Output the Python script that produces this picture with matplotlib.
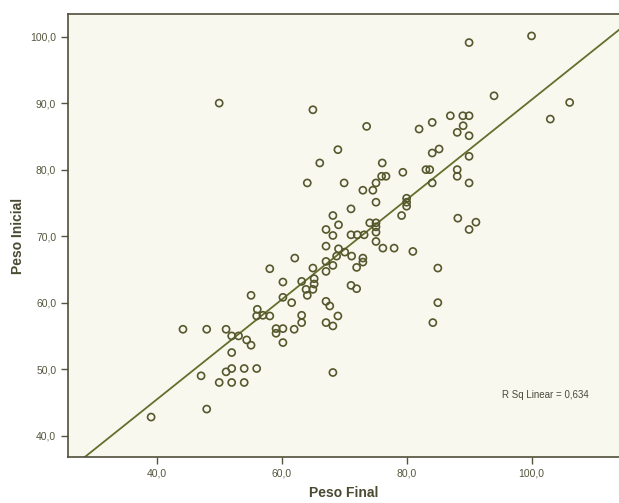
import numpy as np
import matplotlib
matplotlib.use("Agg")
import matplotlib.pyplot as plt
from matplotlib.ticker import FuncFormatter

# Peso Final (x) e Peso Inicial (y)
peso_final = [
    50.0, 65.0, 73.6, 69.0, 66.1, 76.1, 64.1, 70.0, 76.0, 76.7,
    79.4, 75.1, 73.0, 74.6, 90.0, 100.0, 94.0, 106.1, 103.0, 87.0,
    89.0, 90.0, 89.05, 88.1, 90.0, 84.1, 82.0, 84.1, 85.2, 90.0,
    83.1, 83.7, 88.1, 88.1, 84.1, 90.0, 80.0, 80.0, 80.0, 79.2,
    88.2, 91.1, 90.0, 78.0, 76.2, 81.0, 85.0, 85.0, 84.2, 75.1,
    71.1, 68.2, 69.1, 67.1, 74.1, 75.1, 75.1, 75.1, 68.2, 71.1,
    72.1, 73.2, 75.1, 67.1, 69.1, 70.1, 71.2, 68.8, 73.0, 73.0,
    72.0, 62.1, 67.1, 68.2, 67.1, 65.0, 58.1, 65.2, 65.2, 63.2,
    60.2, 63.9, 65.0, 71.1, 72.0, 55.1, 60.2, 64.1, 61.6, 67.1,
    67.7, 56.1, 56.0, 57.0, 58.1, 63.2, 63.2, 69.0, 67.1, 68.2,
    59.1, 59.1, 60.2, 62.0, 60.2, 68.2, 44.2, 48.0, 51.1, 52.0,
    53.1, 54.4, 55.1, 52.0, 52.0, 51.1, 54.0, 56.0, 47.1, 50.0,
    52.0, 54.0, 48.0, 39.1,
]
peso_inicial = [
    90.0, 89.0, 86.5, 83.0, 81.0, 81.0, 78.0, 78.0, 79.0, 79.0,
    79.6, 78.0, 76.9, 76.9, 99.1, 100.1, 91.1, 90.1, 87.6, 88.1,
    88.1, 88.1, 86.6, 85.6, 85.1, 87.1, 86.1, 82.5, 83.1, 82.0,
    80.0, 80.0, 80.0, 79.0, 78.0, 78.0, 75.7, 75.1, 74.5, 73.1,
    72.7, 72.1, 71.0, 68.2, 68.2, 67.7, 65.2, 60.0, 57.0, 75.1,
    74.1, 73.1, 71.7, 71.0, 72.0, 72.0, 71.4, 70.6, 70.1, 70.2,
    70.2, 70.2, 69.2, 68.5, 68.1, 67.6, 67.0, 67.0, 66.7, 66.1,
    65.3, 66.7, 66.2, 65.6, 64.7, 65.2, 65.1, 63.6, 62.8, 63.2,
    63.1, 62.0, 62.0, 62.6, 62.1, 61.1, 60.8, 61.1, 60.0, 60.2,
    59.5, 59.0, 58.0, 58.1, 58.0, 58.1, 57.0, 58.0, 57.0, 56.5,
    56.1, 55.4, 56.1, 56.0, 54.0, 49.5, 56.0, 56.0, 56.0, 55.0,
    55.0, 54.4, 53.6, 52.5, 50.1, 49.6, 50.1, 50.1, 49.0, 48.0,
    48.0, 48.0, 44.0, 42.8,
]
# reta de ajuste linear
slope = 0.751
intercept = 15.4
r2_texto = "R Sq Linear = 0,634"

x = np.array(peso_final)
y = np.array(peso_inicial)

plt.rcParams['font.family'] = ['Liberation Sans', 'DejaVu Sans']

fig = plt.figure(figsize=(6.19, 5.03), dpi=100)
ax = fig.add_axes([0.1099, 0.0915, 0.8901, 0.8807])
ax.set_facecolor('#f8f8ef')

ax.scatter(x, y, s=26, facecolors='none', edgecolors='#55582c', linewidths=1.2, zorder=3)

xx = np.array([20, 120])
ax.plot(xx, intercept + slope * xx, color='#646f2c', lw=1.3, zorder=2)

ax.set_xlim(25.8, 114)
ax.set_ylim(36.8, 103.4)
ax.set_xticks([40, 60, 80, 100])
ax.set_yticks([40, 50, 60, 70, 80, 90, 100])
fmt = FuncFormatter(lambda v, p: f"{v:.1f}".replace('.', ','))
ax.xaxis.set_major_formatter(fmt)
ax.yaxis.set_major_formatter(fmt)
ax.tick_params(labelsize=7.5, colors='#55553f', length=5, width=1)

for s in ['left', 'bottom', 'top']:
    ax.spines[s].set_color('#4f4f3a')
    ax.spines[s].set_linewidth(1.2)
ax.spines['right'].set_visible(False)

ax.set_xlabel('Peso Final', fontsize=10, fontweight='bold', color='#4a4a32', labelpad=5)
ax.set_ylabel('Peso Inicial', fontsize=10, fontweight='bold', color='#4a4a32', labelpad=4)

ax.text(95.2, 46.1, r2_texto, fontsize=7, color='#4a4a3a', va='center', ha='left')

plt.savefig('out.png', dpi=100)
